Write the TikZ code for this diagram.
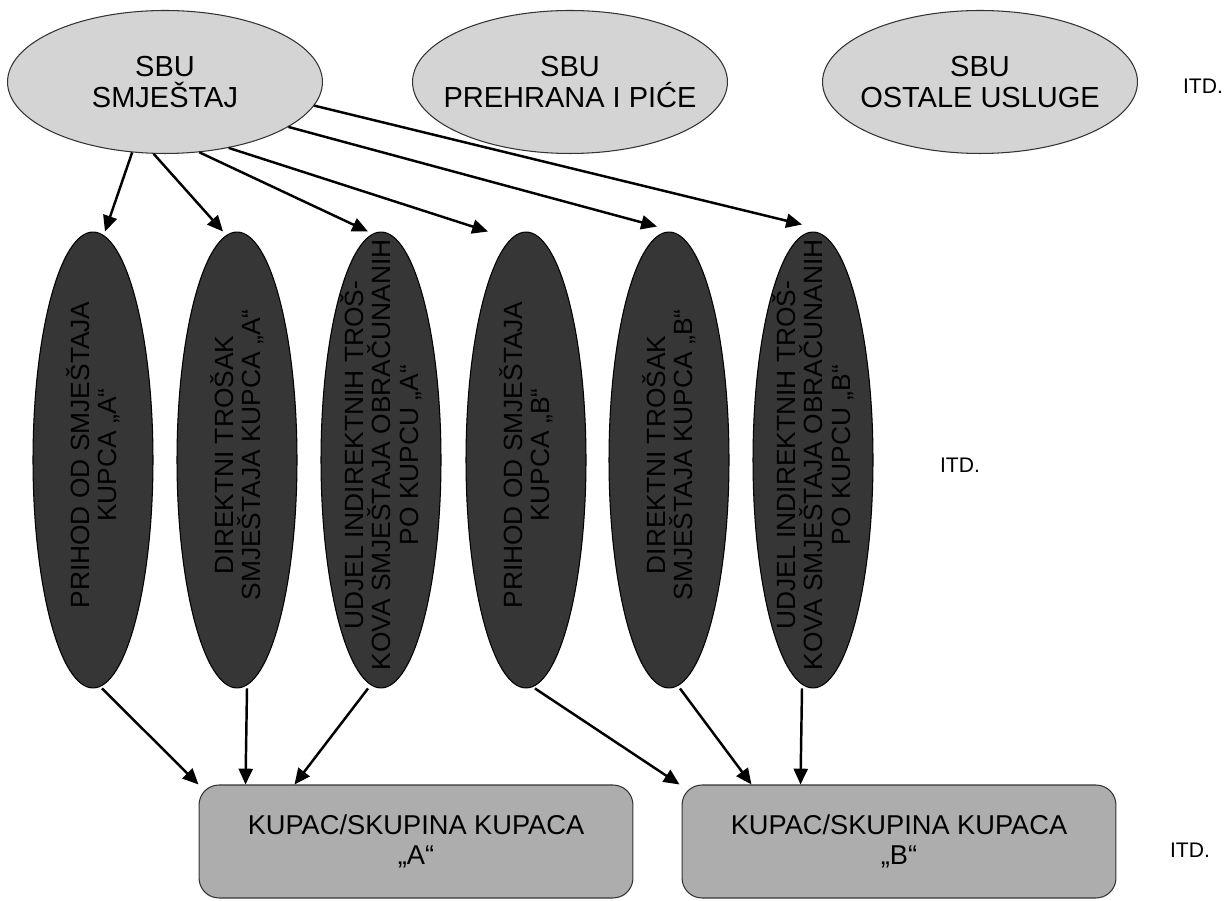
\documentclass[tikz,border=0pt]{standalone}
\usepackage{fontspec}
\setmainfont{Liberation Sans}
\usetikzlibrary{shapes.geometric,arrows.meta}
\definecolor{svijetlosiva}{HTML}{D4D4D4}
\definecolor{tamnosiva}{HTML}{363636}
\definecolor{srednjesiva}{HTML}{ADADAD}
\tikzset{
  sbu/.style={ellipse, draw=black!80, fill=svijetlosiva, line width=0.6pt,
    minimum width=6.3cm, minimum height=2.86cm, inner ysep=0pt, inner xsep=-1cm,
    align=center, font=\fontsize{16.5}{17.5}\selectfont},
  stavka/.style={ellipse, draw=black, fill=tamnosiva, line width=0.6pt,
    minimum width=2.4cm, minimum height=9.12cm, inner sep=0pt},
  stavkatekst/.style={rotate=90, align=center, inner sep=0pt, xshift=0.1cm,
    font=\fontsize{15}{15.5}\selectfont},
  kupac/.style={rectangle, rounded corners=0.4cm, draw=black!80, fill=srednjesiva,
    line width=0.6pt, minimum width=8.68cm, minimum height=2.26cm, align=center,
    font=\fontsize{15.5}{17.5}\selectfont},
  itd/.style={font=\fontsize{12}{14}\selectfont},
  strelica/.style={-{Triangle[length=9pt,width=8pt]}, line width=1.4pt}
}
\begin{document}
\begin{tikzpicture}[x=0.02cm, y=-0.02cm]
	\useasboundingbox (0,0) rectangle (1231,901);
	% gornji red SBU
	\node[sbu] (smjestaj) at (165,82) {SBU\\SMJEŠTAJ};
	\node[sbu] (prehrana) at (570,82) {SBU\\PREHRANA I PIĆE};
	\node[sbu] (ostale) at (980,82) {SBU\\OSTALE USLUGE};
	\node[itd] (itd1) at (1203,86) {ITD.};
	% stavke smjestaja
	\node[stavka] (e1) at (93,460) {};
	\node[stavka] (e2) at (237,460) {};
	\node[stavka] (e3) at (381,460) {};
	\node[stavka] (e4) at (526,460) {};
	\node[stavka] (e5) at (669,460) {};
	\node[stavka] (e6) at (813,460) {};
	\node[stavkatekst] (t1) at (e1) {PRIHOD OD SMJEŠTAJA\\KUPCA „A“};
	\node[stavkatekst] (t2) at (e2) {DIREKTNI TROŠAK\\SMJEŠTAJA KUPCA „A“};
	\node[stavkatekst] (t3) at (e3) {UDJEL INDIREKTNIH TROŠ-\\KOVA SMJEŠTAJA OBRAČUNANIH\\PO KUPCU „A“};
	\node[stavkatekst] (t4) at (e4) {PRIHOD OD SMJEŠTAJA\\KUPCA „B“};
	\node[stavkatekst] (t5) at (e5) {DIREKTNI TROŠAK\\SMJEŠTAJA KUPCA „B“};
	\node[stavkatekst] (t6) at (e6) {UDJEL INDIREKTNIH TROŠ-\\KOVA SMJEŠTAJA OBRAČUNANIH\\PO KUPCU „B“};
	\node[itd] (itd2) at (960,465) {ITD.};
	% kupci
	\node[kupac] (kupacA) at (416,841.5) {KUPAC/SKUPINA KUPACA\\„A“};
	\node[kupac] (kupacB) at (899,841.5) {KUPAC/SKUPINA KUPACA\\„B“};
	\node[itd] (itd3) at (1190,850) {ITD.};
	% strelice od SBU prema stavkama
	\foreach \kut/\cilj/\pomak/\gore in {-115/e1/0.24cm/0cm, -99/e2/-0.28cm/0cm,
		-64/e3/-0.26cm/0cm, -46/e4/-0.76cm/0cm, -20/e5/-0.24cm/0.1cm, -9/e6/-0.22cm/0.14cm}{
		\draw[strelica] (smjestaj.\kut) -- ([xshift=\pomak,yshift=\gore]\cilj.north);
	}
	% strelice od stavki prema kupcima
	\foreach \izvor/\odmak/\cilj/\dolje in {e1/0.18cm/kupacA/0cm, e2/0.2cm/kupacA/0.94cm,
		e3/-0.26cm/kupacA/1.92cm, e4/0.18cm/kupacB/-0.04cm, e5/0.22cm/kupacB/1.4cm,
		e6/-0.22cm/kupacB/2.38cm}{
		\draw[strelica] ([xshift=\odmak]\izvor.south) -- ([xshift=\dolje]\cilj.north west);
	}
\end{tikzpicture}
\end{document}
